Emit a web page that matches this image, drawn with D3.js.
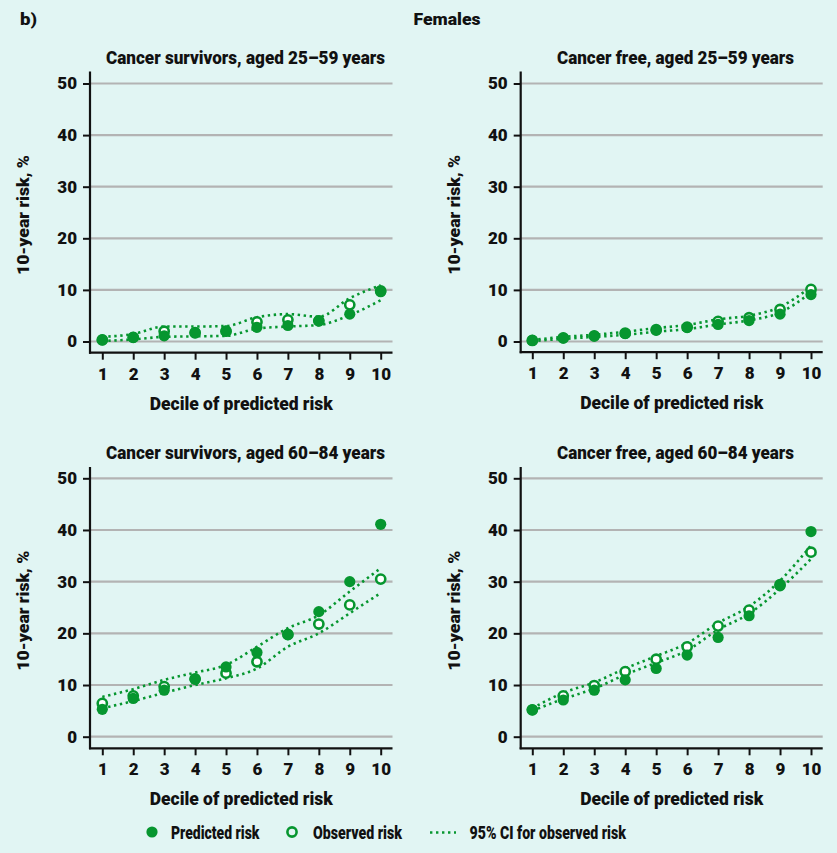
<!DOCTYPE html>
<html><head><meta charset="utf-8">
<script src="https://cdn.jsdelivr.net/npm/d3@7"></script>
<style>
html,body{margin:0;padding:0;background:#e1f5f3;}
svg{display:block;}
text{font-family:Roboto,"DejaVu Sans Condensed",sans-serif;font-weight:900;fill:#111;}
</style></head><body>
<svg id="chart" width="837" height="853"></svg>
<script>
// ---- data ----
const deciles = [1,2,3,4,5,6,7,8,9,10];
const yTicks = [0,10,20,30,40,50];
const panelTitles = ["Cancer survivors, aged 25\u201359 years","Cancer free, aged 25\u201359 years","Cancer survivors, aged 60\u201384 years","Cancer free, aged 60\u201384 years"];
// Panel A: cancer survivors 25-59
const predA = [0.3,0.8,1.1,1.7,2.0,2.75,3.1,4.0,5.3,9.65];
const obsA  = [0.3,0.8,2.0,1.7,2.0,3.8,4.2,4.0,7.1,9.8];
const ciUpA = [0.9,1.45,2.9,2.9,3.0,4.7,5.3,4.8,8.4,10.9];
const ciLoA = [0.1,0.4,0.9,1.0,1.1,2.5,2.9,3.2,5.1,8.0];
// Panel B: cancer free 25-59
const predB = [0.2,0.65,1.05,1.55,2.15,2.7,3.3,4.05,5.3,9.1];
const obsB  = [0.2,0.7,1.1,1.6,2.3,2.8,3.9,4.6,6.2,10.1];
const ciUpB = [0.3,0.9,1.3,1.9,2.6,3.2,4.3,5.0,6.7,10.6];
const ciLoB = [0.1,0.5,0.9,1.3,1.9,2.4,3.3,4.1,5.6,9.5];
// Panel C: cancer survivors 60-84
const predC = [5.3,7.4,9.0,11.1,13.5,16.3,19.7,24.2,30.0,41.1];
const obsC  = [6.45,7.9,9.7,11.2,12.3,14.5,19.8,21.8,25.5,30.5];
const ciUpC = [7.7,9.2,11.0,12.4,13.9,17.4,21.0,23.5,28.1,32.6];
const ciLoC = [5.5,6.9,8.5,10.0,11.3,13.2,17.4,20.0,23.9,27.8];
// Panel D: cancer free 60-84
const predD = [5.2,7.1,9.0,11.0,13.2,15.8,19.2,23.4,29.2,39.7];
const obsD  = [5.2,7.9,9.9,12.6,15.0,17.4,21.4,24.5,29.4,35.7];
const ciUpD = [5.5,8.5,10.5,13.2,15.6,18.1,22.0,25.2,30.2,37.0];
const ciLoD = [5.0,7.3,9.3,12.0,14.3,16.7,20.7,23.8,28.6,34.4];

const GREEN = "#06962f";
const GRID = "#b3b3b3";
const svg = d3.select("#chart");

function fit(sel, len){ return sel.attr("textLength",len).attr("lengthAdjust","spacingAndGlyphs"); }

fit(svg.append("text").attr("x",20).attr("y",25).attr("font-size",16.5).text("b)"),17);
fit(svg.append("text").attr("x",447).attr("y",25).attr("text-anchor","middle").attr("font-size",16.5).text("Females"),67);

const panels = [
  {title:panelTitles[0], tw:279, pred:predA, obs:obsA, up:ciUpA, lo:ciLoA, ax:90, x1:102.3, x10:380.7, xr:392.5, y0:341.5, y50:83.5, top:71.5, xa:352.7, tx:245.5},
  {title:panelTitles[1], tw:237, pred:predB, obs:obsB, up:ciUpB, lo:ciLoB, ax:520.7, x1:532.3, x10:811, xr:822.7, y0:341.5, y50:83.5, top:71.5, xa:352.2, tx:675.5},
  {title:panelTitles[2], tw:279, pred:predC, obs:obsC, up:ciUpC, lo:ciLoC, ax:90, x1:102.3, x10:380.7, xr:392.5, y0:736.7, y50:478.3, top:467, xa:748.3, tx:245.5},
  {title:panelTitles[3], tw:237, pred:predD, obs:obsD, up:ciUpD, lo:ciLoD, ax:520.7, x1:532.3, x10:811, xr:822.7, y0:736.7, y50:478.3, top:467, xa:748.3, tx:675.5}
];

panels.forEach(p => {
  const x = d3.scaleLinear().domain([1,10]).range([p.x1,p.x10]);
  const y = d3.scaleLinear().domain([0,50]).range([p.y0,p.y50]);
  const g = svg.append("g");
  // gridlines
  g.selectAll("line.grid").data(yTicks).join("line")
    .attr("x1",p.ax).attr("x2",p.xr).attr("y1",d=>y(d)).attr("y2",d=>y(d))
    .attr("stroke",GRID).attr("stroke-width",2.2);
  // y axis
  const yAxis = g.append("g").attr("transform",`translate(${p.ax},0)`)
    .call(d3.axisLeft(y).tickValues(yTicks).tickSize(7).tickPadding(6));
  yAxis.select(".domain").remove();
  yAxis.selectAll(".tick line").attr("stroke","#111").attr("stroke-width",2);
  yAxis.selectAll(".tick text").attr("font-size",17).attr("font-family",null).attr("fill","#111");
  // x axis
  const xAxis = g.append("g").attr("transform",`translate(0,${p.xa})`)
    .call(d3.axisBottom(x).tickValues(deciles).tickSize(7).tickPadding(8));
  xAxis.select(".domain").remove();
  xAxis.selectAll(".tick line").attr("stroke","#111").attr("stroke-width",2);
  xAxis.selectAll(".tick text").attr("font-size",17).attr("font-family",null).attr("fill","#111");
  // axis lines
  g.append("line").attr("x1",p.ax).attr("x2",p.ax).attr("y1",p.top).attr("y2",p.xa+1)
    .attr("stroke","#111").attr("stroke-width",2.2);
  g.append("line").attr("x1",p.ax-1).attr("x2",p.xr).attr("y1",p.xa).attr("y2",p.xa)
    .attr("stroke","#111").attr("stroke-width",2.2);
  // labels
  fit(g.append("text").attr("x",p.tx).attr("y",p.y50-19.5).attr("text-anchor","middle").attr("font-size",17.5).text(p.title), p.tw);
  fit(g.append("text").attr("x",(p.ax+p.xr)/2).attr("y",p.xa+57).attr("text-anchor","middle").attr("font-size",17.5).text("Decile of predicted risk"),183);
  fit(g.append("text").attr("transform",`translate(${p.ax-61},${(p.top+p.xa)/2+3}) rotate(-90)`)
    .attr("text-anchor","middle").attr("font-size",17).text("10-year risk, %"),120);
  // CI lines
  const line = d3.line().x((d,i)=>x(deciles[i])).y(d=>y(d)).curve(d3.curveMonotoneX);
  [p.up,p.lo].forEach(arr => {
    g.append("path").attr("d",line(arr)).attr("fill","none").attr("stroke",GREEN)
      .attr("stroke-width",2.6).attr("stroke-dasharray","2.4,3.6");
  });
  // observed (open)
  g.selectAll("circle.obs").data(p.obs).join("circle")
    .attr("cx",(d,i)=>x(deciles[i])).attr("cy",d=>y(d)).attr("r",4.6)
    .attr("fill","#fff").attr("stroke",GREEN).attr("stroke-width",2.6);
  // predicted (filled)
  g.selectAll("circle.pred").data(p.pred).join("circle")
    .attr("cx",(d,i)=>x(deciles[i])).attr("cy",d=>y(d)).attr("r",5.6)
    .attr("fill",GREEN);
});

// legend
const lg = svg.append("g");
lg.append("circle").attr("cx",152).attr("cy",832).attr("r",5.6).attr("fill",GREEN);
fit(lg.append("text").attr("x",171).attr("y",838.5).attr("font-size",17.5).text("Predicted risk"),88.5);
lg.append("circle").attr("cx",292).attr("cy",832).attr("r",4.6).attr("fill","none").attr("stroke",GREEN).attr("stroke-width",2.6);
fit(lg.append("text").attr("x",313).attr("y",838.5).attr("font-size",17.5).text("Observed risk"),89);
lg.append("line").attr("x1",430).attr("x2",456).attr("y1",832.5).attr("y2",832.5).attr("stroke",GREEN).attr("stroke-width",2.6).attr("stroke-dasharray","2.4,3.6");
fit(lg.append("text").attr("x",469.5).attr("y",838.5).attr("font-size",17.5).text("95% CI for observed risk"),156.5);
</script>
</body></html>
